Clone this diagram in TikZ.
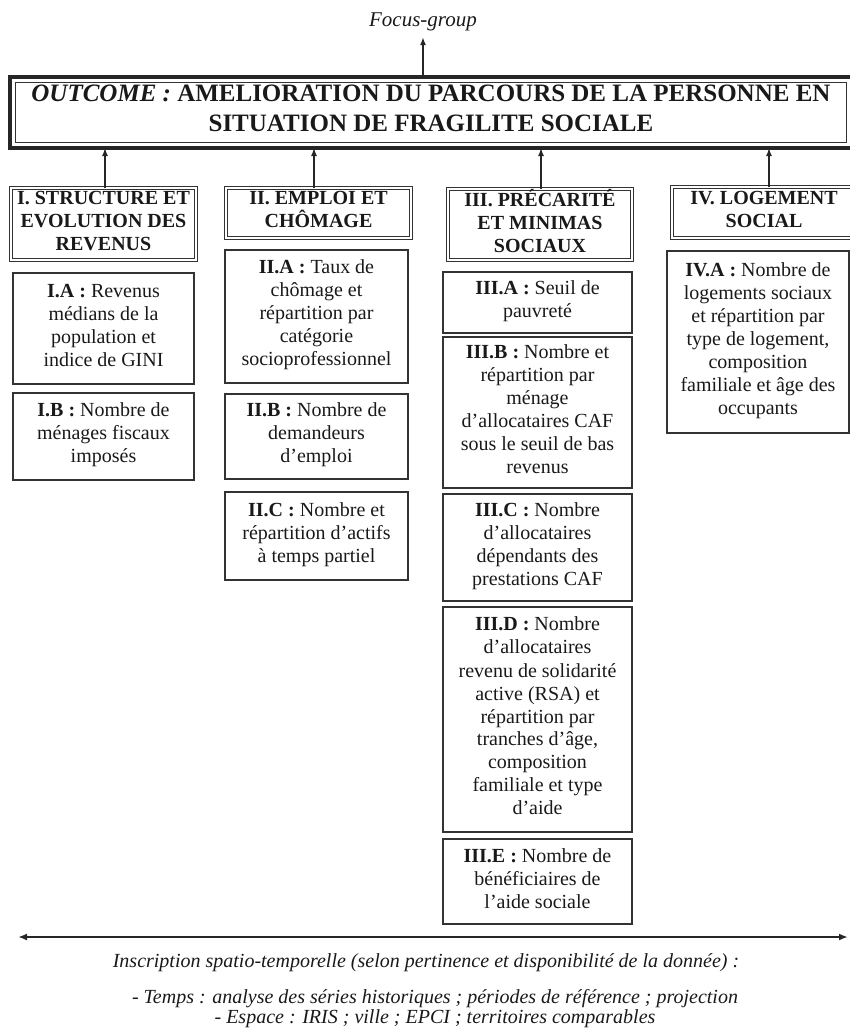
\documentclass[tikz,border=0pt]{standalone}
\usepackage{fontspec}
\setmainfont{Liberation Serif}
\usetikzlibrary{arrows.meta}
\begin{document}
\begin{tikzpicture}[x=1pt,y=-1pt,
  base/.style={align=center, inner sep=0pt, outer sep=0pt, text=black!90},
  body/.style={base, font=\fontsize{20}{23}\selectfont, execute at begin node=\strut, execute at end node=\strut},
  indbox/.style={body, draw=black!80, line width=1.3pt},
  catbox/.style={base, font=\fontsize{20}{23}\selectfont\bfseries, draw=black!80, double=white, double distance=1.8pt, line width=1.2pt,
    execute at begin node=\strut, execute at end node={\rule[-3.6pt]{0pt}{3.6pt}}},
  outbox/.style={base, font=\fontsize{25}{30}\selectfont\bfseries, draw=black!85, line width=3.5pt, execute at begin node=\strut, execute at end node=\strut},
  innerline/.style={draw=black!80, line width=1.2pt},
  note/.style={base, font=\fontsize{20}{23}\selectfont\itshape},
  up/.style={-{Latex[length=8pt,width=6pt]}, line width=1.4pt, draw=black!85},
  span/.style={{Latex[length=9pt,width=7pt]}-{Latex[length=9pt,width=7pt]}, line width=2.2pt, draw=black!85}
]
\useasboundingbox (0,0) rectangle (850,1029);
\clip (0,0) rectangle (850,1029);

% top
\node[note, font=\fontsize{21}{25}\selectfont\itshape] (FG) at (423,22) {Focus-group};
\node[outbox, minimum width=842pt, minimum height=71pt] (O) at (431,112.5)
  {\textit{OUTCOME :} AMELIORATION DU PARCOURS DE LA PERSONNE EN\\SITUATION DE FRAGILITE SOCIALE};
\draw[innerline] ([xshift=5.5pt,yshift=-5.5pt]O.north west) rectangle ([xshift=-5.5pt,yshift=5.5pt]O.south east);
\draw[up, shorten >=6pt] (O.north -| FG) -- (FG.south);

% categories
\node[catbox, minimum width=184.4pt, minimum height=71.4pt] (C1) at (103.5,224) {I. STRUCTURE ET\\EVOLUTION DES\\REVENUS};
\node[catbox, minimum width=184.4pt, minimum height=49.4pt] (C2) at (318.5,213) {II. EMPLOI ET\\CHÔMAGE};
\node[catbox, minimum width=183.4pt, minimum height=70.4pt] (C3) at (540,224.5) {III. PRÉCARITÉ\\ET MINIMAS\\SOCIAUX};
\node[catbox, minimum width=183.4pt, minimum height=50.4pt] (C4) at (764,212.5) {IV. LOGEMENT\\SOCIAL};

\draw[up] ([xshift=1.5pt]C1.north) -- ([xshift=1.5pt]C1.north |- O.south);
\draw[up] ([xshift=-4.5pt]C2.north) -- ([xshift=-4.5pt]C2.north |- O.south);
\draw[up] ([xshift=1pt]C3.north) -- ([xshift=1pt]C3.north |- O.south);
\draw[up] ([xshift=5pt]C4.north) -- ([xshift=5pt]C4.north |- O.south);

% column I
\node[indbox, minimum width=181pt, minimum height=111pt] (IA) at (103.5,328.5)
  {\textbf{I.A :} Revenus\\médians de la\\population et\\indice de GINI};
\node[indbox, minimum width=181pt, minimum height=87pt] (IB) at (103.5,436.5)
  {\textbf{I.B :} Nombre de\\ménages fiscaux\\imposés};

% column II
\node[indbox, minimum width=183pt, minimum height=133pt] (IIA) at (316.5,316.5)
  {\textbf{II.A :} Taux de\\chômage et\\répartition par\\catégorie\\socioprofessionnel};
\node[indbox, minimum width=183pt, minimum height=85pt] (IIB) at (316.5,436.5)
  {\textbf{II.B :} Nombre de\\demandeurs\\d’emploi};
\node[indbox, minimum width=183pt, minimum height=88pt] (IIC) at (316.5,536)
  {\textbf{II.C :} Nombre et\\répartition d’actifs\\à temps partiel};

% column III
\node[indbox, minimum width=189pt, minimum height=61pt] (IIIA) at (537.5,302.5)
  {\textbf{III.A :} Seuil de\\pauvreté};
\node[indbox, minimum width=189pt, minimum height=151pt] (IIIB) at (537.5,412.5)
  {\textbf{III.B :} Nombre et\\répartition par\\ménage\\d’allocataires CAF\\sous le seuil de bas\\revenus};
\node[indbox, minimum width=189pt, minimum height=107pt] (IIIC) at (537.5,547.5)
  {\textbf{III.C :} Nombre\\d’allocataires\\dépendants des\\prestations CAF};
\node[indbox, minimum width=189pt, minimum height=225pt] (IIID) at (537.5,719.5)
  {\textbf{III.D :} Nombre\\d’allocataires\\revenu de solidarité\\active (RSA) et\\répartition par\\tranches d’âge,\\composition\\familiale et type\\d’aide};
\node[indbox, minimum width=189pt, minimum height=85pt] (IIIE) at (537.5,881.5)
  {\textbf{III.E :} Nombre de\\bénéficiaires de\\l’aide sociale};

% column IV
\node[indbox, minimum width=182pt, minimum height=182pt] (IVA) at (758,342)
  {\textbf{IV.A :} Nombre de\\logements sociaux\\et répartition par\\type de logement,\\composition\\familiale et âge des\\occupants};

% bottom
\coordinate (SL) at (18,937);
\coordinate (SR) at (848,937);
\draw[span] (SL) -- (SR);
\node[note] (INS) at (426,963) {Inscription spatio-temporelle (selon pertinence et disponibilité de la donnée) :};
\node[note, font=\fontsize{20}{17}\selectfont\itshape] (TE) at (435,1008.5)
  {- Temps : analyse des séries historiques ; périodes de référence ; projection\\- Espace : IRIS ; ville ; EPCI ; territoires comparables};
\end{tikzpicture}
\end{document}
